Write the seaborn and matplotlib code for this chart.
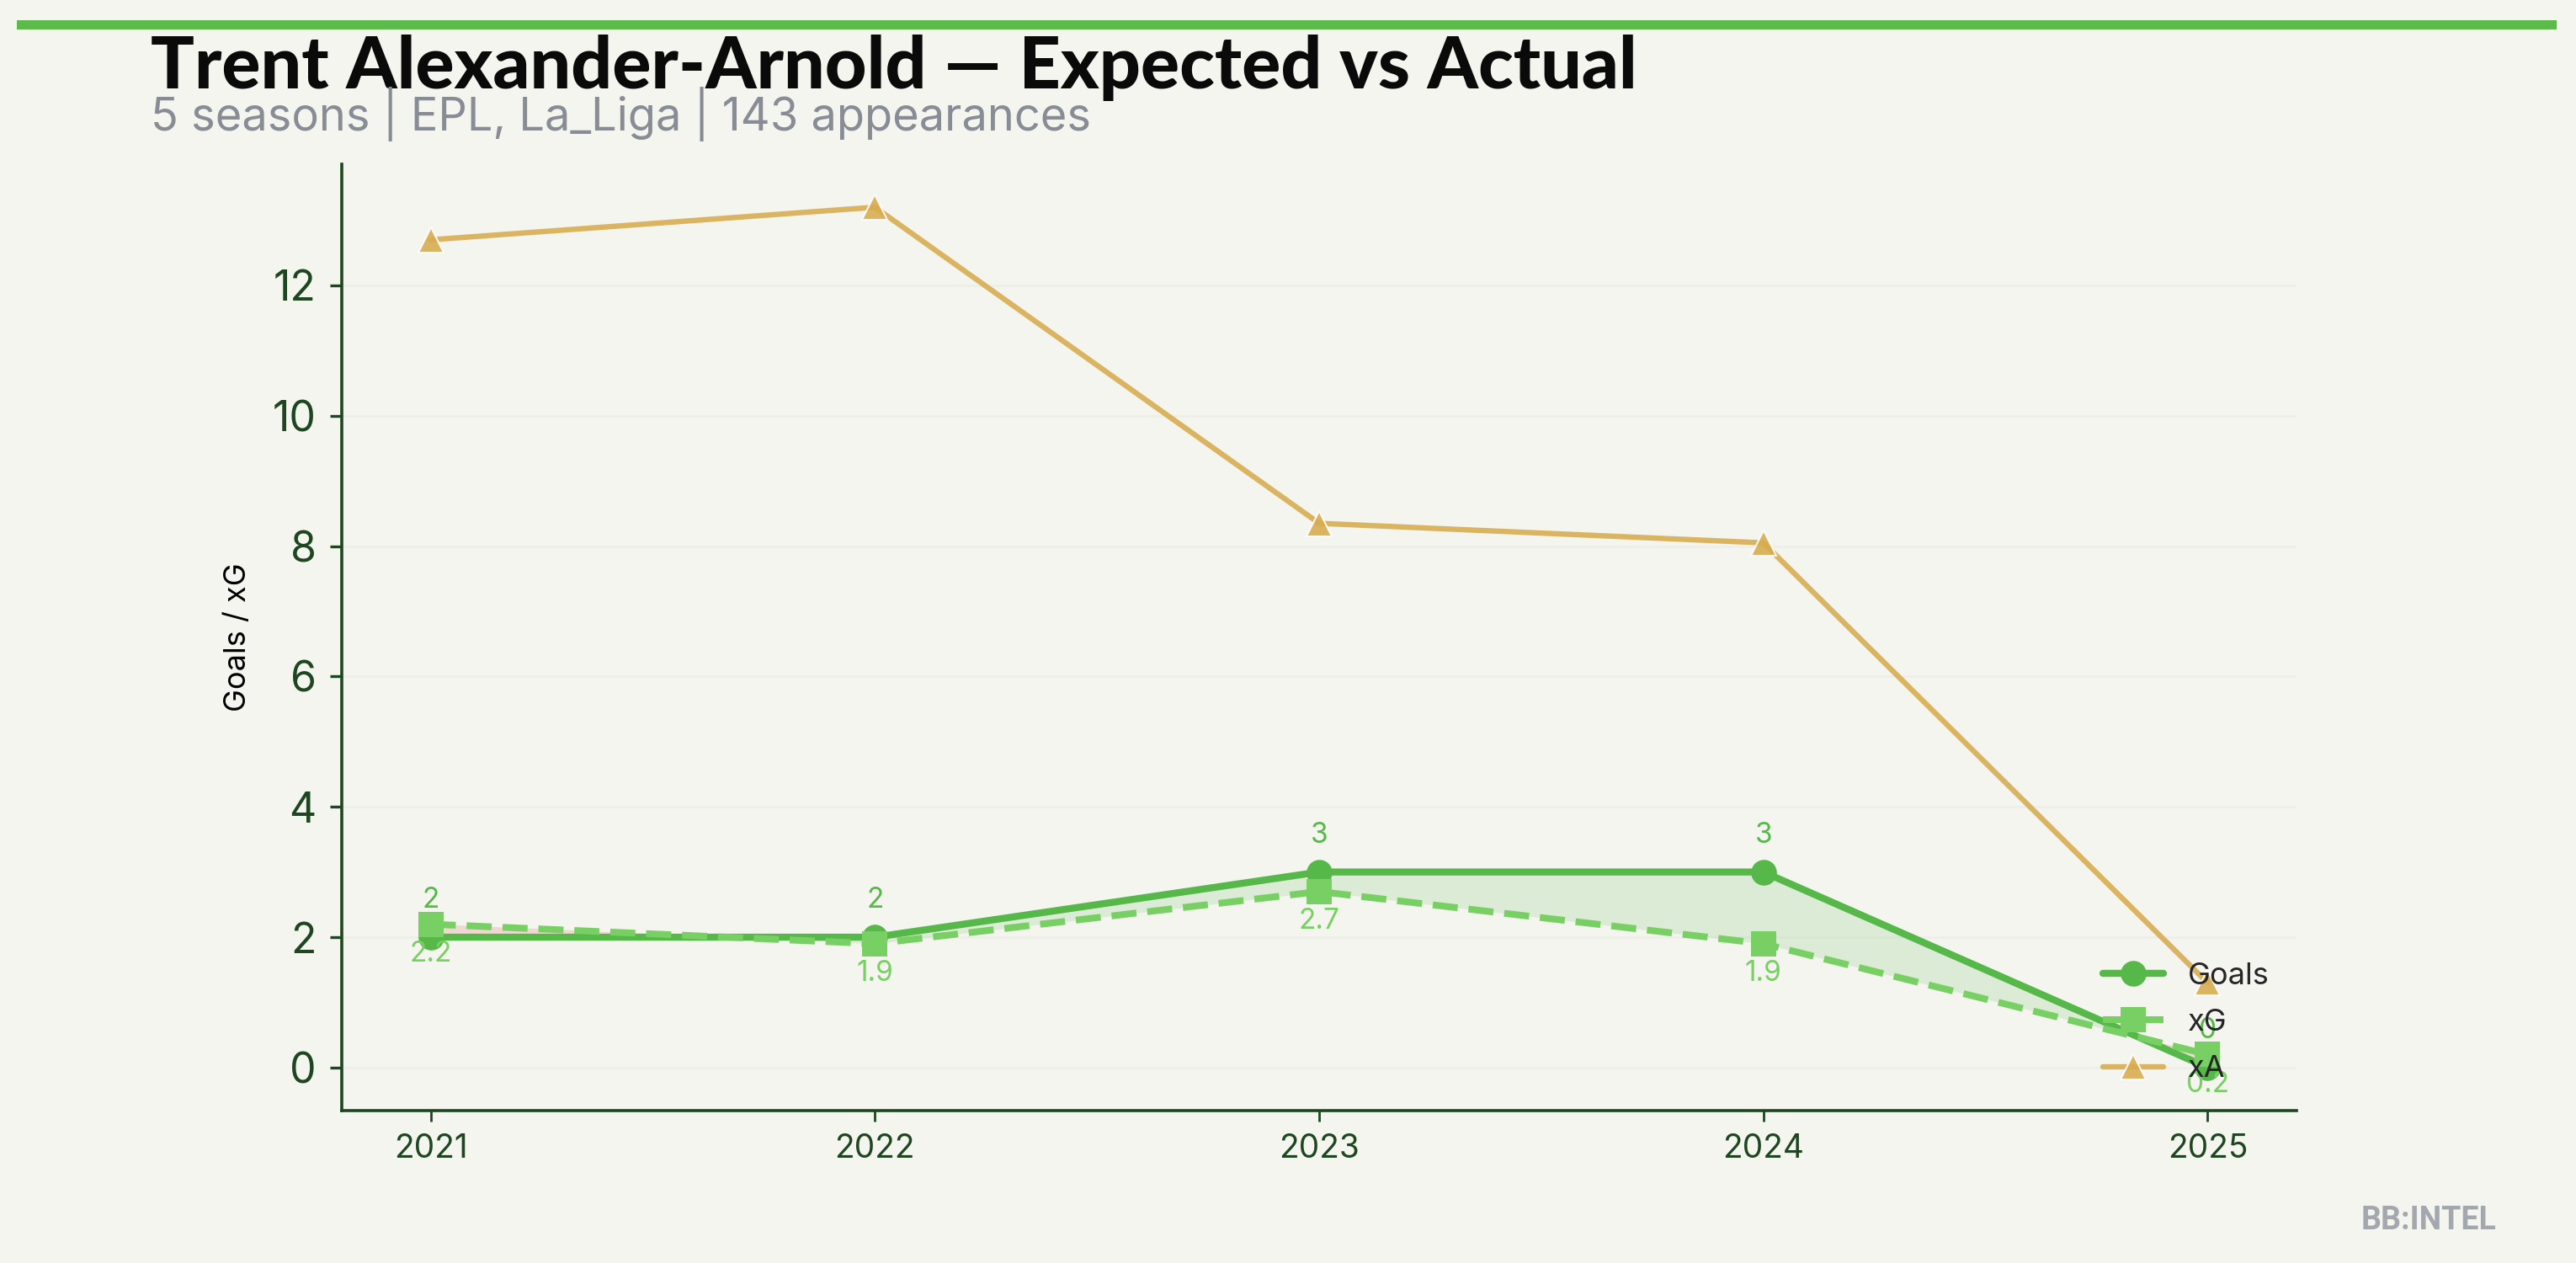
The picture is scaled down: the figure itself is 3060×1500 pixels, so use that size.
import matplotlib
matplotlib.use("Agg")
import matplotlib.pyplot as plt
from matplotlib.patches import Rectangle
import pandas as pd
import seaborn as sns

# ─── Data ────────────────────────────────────────────────────────────────────
seasons = [2021, 2022, 2023, 2024, 2025]
goals = [2, 2, 3, 3, 0]
xg = [2.2, 1.9, 2.7, 1.9, 0.2]
xa = [12.7, 13.2, 8.35, 8.05, 1.3]

TITLE = "Trent Alexander-Arnold \u2014 Expected vs Actual"
SUBTITLE = "5 seasons | EPL, La_Liga | 143 appearances"

# ─── Style ───────────────────────────────────────────────────────────────────
BG = "#F4F5EF"
GOALS_C = "#56B849"
XG_C = "#78D064"
XA_C = "#D8AB4E"
AXIS_C = "#1E4620"

sns.set_theme(style="ticks", rc={
    "figure.facecolor": BG, "axes.facecolor": BG, "savefig.facecolor": BG,
    "axes.edgecolor": AXIS_C, "xtick.color": AXIS_C, "ytick.color": AXIS_C,
})
plt.rcParams["font.family"] = ["Inter", "DejaVu Sans"]

df = pd.DataFrame({"season": seasons, "Goals": goals, "xG": xg, "xA": xa})

fig = plt.figure(figsize=(15.3, 7.5), dpi=200)
ax = fig.add_axes([0.1327, 0.1207, 0.7588, 0.7493])

sns.lineplot(data=df, x="season", y="Goals", ax=ax, color=GOALS_C, lw=3.0,
             marker="o", markersize=11, markeredgewidth=0, label="Goals")
sns.lineplot(data=df, x="season", y="xG", ax=ax, color=XG_C, lw=2.9,
             linestyle="--", marker="s", markersize=10.5, markeredgewidth=0,
             label="xG")
sns.lineplot(data=df, x="season", y="xA", ax=ax, color=XA_C, lw=2.3,
             alpha=0.88, marker="^", markersize=11, label="xA")

# over / under performance shading
g = df["Goals"].to_numpy(dtype=float)
e = df["xG"].to_numpy(dtype=float)
ax.fill_between(df["season"], g, e, where=g >= e, interpolate=True,
                color=GOALS_C, alpha=0.15, lw=0)
ax.fill_between(df["season"], g, e, where=g < e, interpolate=True,
                color="#E8524F", alpha=0.18, lw=0)

# value labels
for s, v in zip(seasons, goals):
    ax.annotate(f"{v:g}", (s, v), xytext=(0, 10), textcoords="offset points",
                ha="center", va="bottom", fontsize=12, color=GOALS_C)
for s, v in zip(seasons, xg):
    ax.annotate(f"{v:g}", (s, v), xytext=(0, -7), textcoords="offset points",
                ha="center", va="top", fontsize=12, color=XG_C)

ax.set_xticks(seasons)
ax.set_xlabel("")
ax.set_ylabel("Goals / xG", fontsize=13, color="black", labelpad=9)
ax.tick_params(axis="x", labelsize=14, length=4.7, width=1, pad=5)
ax.tick_params(axis="y", labelsize=18, length=5, width=1.2, pad=6)
ax.grid(axis="y", color="#EDEFE8", lw=1)
ax.set_axisbelow(True)
sns.despine(ax=ax)
for sp in ("left", "bottom"):
    ax.spines[sp].set_linewidth(1.3)

ax.legend(loc="lower right", frameon=False, fontsize=13, labelspacing=0.62)

# header / footer
fig.add_artist(Rectangle((0.0065, 0.9765), 0.986, 0.0075,
                         transform=fig.transFigure, color="#5BBA4A", lw=0))
fig.text(0.0585, 0.930, TITLE, fontsize=31, fontweight="black",
         family=["Lato", "DejaVu Sans"], color="#0A0A0A", va="baseline")
fig.text(0.0585, 0.897, SUBTITLE, fontsize=19.5, color="#878C95",
         va="baseline")
fig.text(0.969, 0.027, "BB:INTEL", fontsize=13.5, fontweight="bold",
         family=["Roboto", "DejaVu Sans"], fontstretch="condensed",
         color="#A3A7AE", ha="right", va="baseline")

fig.savefig("out.png", dpi=200)
